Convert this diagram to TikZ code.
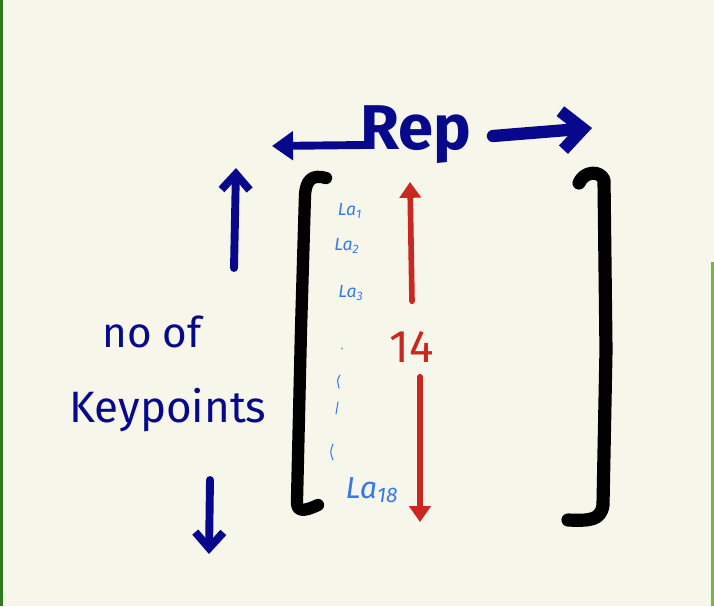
\documentclass[tikz,border=0pt]{standalone}
\usepackage{fontspec}
\setmainfont{Fira Sans}
\usetikzlibrary{arrows.meta, positioning}
\definecolor{paper}{RGB}{246,246,235}
\definecolor{navyink}{RGB}{8,8,140}
\definecolor{redink}{RGB}{200,40,32}
\definecolor{blueink}{RGB}{52,122,232}
\definecolor{edgegreen}{RGB}{46,120,30}
\definecolor{lightgreen}{RGB}{124,179,66}

\begin{document}
\begin{tikzpicture}[
    x=0.02cm, y=-0.02cm,
    inkarrow/.style={
        draw=navyink,
        line width=4.5pt,
        line cap=round,
        -{Straight Barb[length=9pt, width=16pt]}
    },
    redarrow/.style={
        draw=redink,
        line width=3.2pt,
        line cap=round,
        -{Triangle[length=9pt, width=12pt]}
    },
    bracket/.style={
        draw=black,
        line width=7pt,
        line cap=round,
        line join=round
    },
    label/.style={
        text=blueink,
        inner sep=0pt
    }
]

% paper and the green edges
\fill[paper] (0,0) rectangle (714,606);
\fill[edgegreen] (0,0) rectangle (3,606);
\fill[lightgreen] (711,262) rectangle (714,606);

% ------------------------------------------------------------
% Top: Rep with its arrows
% ------------------------------------------------------------
\node[text=navyink, font=\fontsize{36}{40}\selectfont\bfseries] (rep) at (416,135) {Rep};
\coordinate (repL) at (272,146);
\coordinate (repR) at (592,128);
\coordinate (repRs) at (493,136);
\draw[inkarrow, -{Triangle[length=12pt, width=16pt]}] (rep.west) ++(10,10) -- (repL);
\draw[inkarrow, line width=7pt, -{Straight Barb[length=12pt, width=22pt]}] (repRs) -- (repR);

% ------------------------------------------------------------
% Left: no of keypoints
% ------------------------------------------------------------
\node[text=navyink, font=\fontsize{24}{28}\selectfont] (noof) at (152,332) {no of};
\node[text=navyink, font=\fontsize{25}{28}\selectfont] (keyp) at (168,410) {Keypoints};
\coordinate (upS) at (234,268);
\coordinate (upE) at (236,168);
\coordinate (dnS) at (210,480);
\coordinate (dnE) at (209,554);
\draw[inkarrow] (upS) -- (upE);
\draw[inkarrow] (dnS) -- (dnE);

% ------------------------------------------------------------
% Brackets
% ------------------------------------------------------------
\draw[bracket] (326,178) .. controls (312,174) and (306,180) .. (305,195)
    -- (301,330) -- (297,500) .. controls (296,512) and (303,512) .. (318,505);
\draw[bracket, line width=7.5pt] (579,183) .. controls (584,171) and (600,170) .. (604,180)
    -- (606,350) -- (603,505) .. controls (601,520) and (590,521) .. (568,520);

% ------------------------------------------------------------
% Rows
% ------------------------------------------------------------
\node[label, font=\normalsize\itshape] (la1) at (350,211) {La\textsubscript{1}};
\node[label, font=\normalsize\itshape] (la2) at (347,246) {La\textsubscript{2}};
\node[label, font=\normalsize\itshape] (la3) at (351,293) {La\textsubscript{3}};
\node[label, font=\LARGE\itshape] (la18) at (372,490) {La\textsubscript{18}};
\draw[blueink, line width=0.6pt, line cap=round]
    (342,348) -- (342,349)
    (340,375) .. controls (337,380) .. (339,388)
    (338,402) -- (336,414)
    (333,444) .. controls (330,452) .. (333,460);

% ------------------------------------------------------------
% Red count arrow
% ------------------------------------------------------------
\node[text=redink, font=\fontsize{26}{30}\selectfont] (num) at (412,347) {14};
\coordinate (cntT) at (410,182);
\coordinate (cntB) at (420,522);
\draw[redarrow] (num.north) ++(0,-24) -- (cntT);
\draw[redarrow] (num.south) ++(8,8) -- (cntB);

\end{tikzpicture}
\end{document}
